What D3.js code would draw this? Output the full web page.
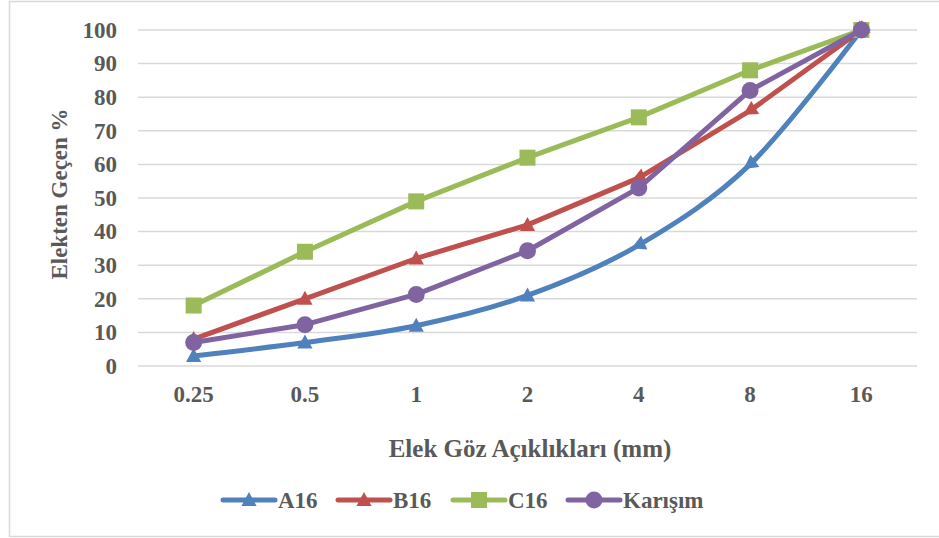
<!DOCTYPE html>
<html>
<head>
<meta charset="utf-8">
<script src="https://cdn.jsdelivr.net/npm/d3@7"></script>
<style>
  html, body { margin: 0; padding: 0; background: #fff; }
  svg { display: block; }
  text { font-family: "Liberation Serif", "Times New Roman", serif; font-weight: bold; fill: #595959; }
</style>
</head>
<body>
<svg id="chart" width="939" height="538"></svg>
<script>
// Sieve sizes (mm) and passing percentages for each aggregate
const sieves = ["0.25", "0.5", "1", "2", "4", "8", "16"];
const a16 = [3, 7, 12, 21, 36, 60, 100];
const b16 = [8, 20, 32, 42, 56, 76, 100];
const c16 = [18, 34, 49, 62, 74, 88, 100];
const karisim = [7, 12.3, 21.3, 34.3, 53, 82, 100];
const yTicks = [0, 10, 20, 30, 40, 50, 60, 70, 80, 90, 100];
const seriesNames = ["A16", "B16", "C16", "Karışım"];

const series = [
  { name: seriesNames[0], values: a16, color: "#4F81BD", marker: "triangle", smooth: true },
  { name: seriesNames[1], values: b16, color: "#C0504D", marker: "triangle", smooth: false },
  { name: seriesNames[2], values: c16, color: "#9BBB59", marker: "square", smooth: false },
  { name: seriesNames[3], values: karisim, color: "#8064A2", marker: "circle", smooth: false }
];

const svg = d3.select("#chart");
const plot = { left: 138, right: 917, top: 30, bottom: 366 };

// chart frame
svg.append("rect")
  .attr("x", 9.5).attr("y", 1.5).attr("width", 940).attr("height", 535)
  .attr("fill", "none").attr("stroke", "#d9d9d9").attr("stroke-width", 1.5);

const x = d3.scaleBand().domain(sieves).range([plot.left, plot.right]);
const y = d3.scaleLinear().domain([0, 100]).range([plot.bottom, plot.top]);
const cx = d => x(d) + x.bandwidth() / 2;

// horizontal gridlines
svg.append("g").selectAll("line").data(yTicks).join("line")
  .attr("x1", plot.left).attr("x2", plot.right)
  .attr("y1", d => y(d)).attr("y2", d => y(d))
  .attr("stroke", "#d9d9d9").attr("stroke-width", 1.5);

// y axis labels
const yAxis = svg.append("g").attr("transform", `translate(${plot.left},0)`)
  .call(d3.axisLeft(y).tickValues(yTicks).tickSize(0).tickPadding(21));
yAxis.select(".domain").remove();
yAxis.selectAll("text").style("font-size", "23px").attr("fill", "#595959")
  .style("font-family", "Liberation Serif, serif").style("font-weight", "bold");

// x axis labels
const xAxis = svg.append("g").attr("transform", `translate(0,${plot.bottom})`)
  .call(d3.axisBottom(x).tickSize(0).tickPadding(20));
xAxis.select(".domain").remove();
xAxis.selectAll("text").style("font-size", "23px").attr("fill", "#595959")
  .style("font-family", "Liberation Serif, serif").style("font-weight", "bold");

// axis titles
svg.append("text").attr("x", 530).attr("y", 457).attr("text-anchor", "middle")
  .style("font-size", "25px").text("Elek Göz Açıklıkları (mm)");
svg.append("text").attr("transform", "translate(67,194) rotate(-90)")
  .attr("text-anchor", "middle").style("font-size", "23px").text("Elekten Geçen %");

// marker drawing
function drawMarker(g, type, color, px, py, angle) {
  if (type === "triangle") {
    const s = 8;
    g.append("path")
      .attr("d", `M0,${-s}L${s * 0.95},${s * 0.75}L${-s * 0.95},${s * 0.75}Z`)
      .attr("transform", `translate(${px},${py}) rotate(${angle})`)
      .attr("fill", color);
  } else if (type === "square") {
    g.append("rect").attr("x", px - 8).attr("y", py - 8).attr("width", 16).attr("height", 16)
      .attr("fill", color);
  } else {
    g.append("circle").attr("cx", px).attr("cy", py).attr("r", 8.5).attr("fill", color);
  }
}

series.forEach(s => {
  const pts = s.values.map((v, i) => [cx(sieves[i]), y(v)]);
  const line = d3.line().curve(s.smooth ? d3.curveCardinal.tension(0) : d3.curveLinear);
  const g = svg.append("g");
  g.append("path").attr("d", line(pts)).attr("fill", "none")
    .attr("stroke", s.color).attr("stroke-width", 5).attr("stroke-linejoin", "round");
  pts.forEach((p, i) => {
    let angle = 0;
    if (i > 0) {
      const dx = p[0] - pts[i - 1][0], dy = pts[i - 1][1] - p[1];
      const slope = Math.atan2(dy, dx) * 180 / Math.PI;
      // on steep segments the triangle turns to point back along the incoming line
      if (slope > 20) angle = -90 - slope;
    }
    drawMarker(g, s.marker, s.color, p[0], p[1], angle);
  });
});

// legend
const legendX = [223, 338, 453, 568];
const legendY = 500;
series.forEach((s, i) => {
  const g = svg.append("g");
  const x0 = legendX[i];
  g.append("line").attr("x1", x0).attr("x2", x0 + 52).attr("y1", legendY).attr("y2", legendY)
    .attr("stroke", s.color).attr("stroke-width", 5).attr("stroke-linecap", "round");
  drawMarker(g, s.marker, s.color, x0 + 26, legendY, 0);
  g.append("text").attr("x", x0 + 55).attr("y", legendY + 8).style("font-size", "23px").text(s.name);
});
</script>
</body>
</html>
